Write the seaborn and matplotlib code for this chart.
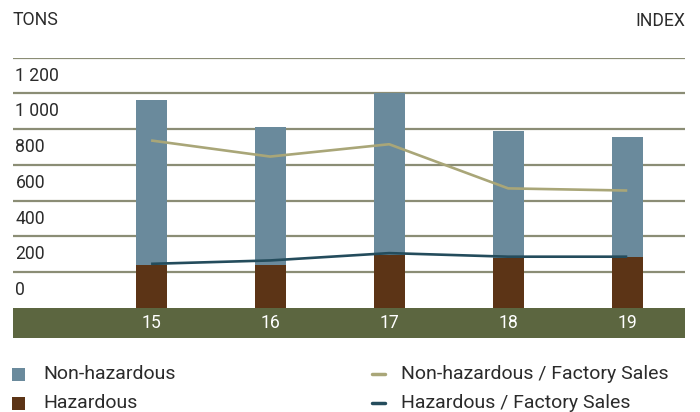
import matplotlib
matplotlib.use("Agg")
import matplotlib.pyplot as plt
from matplotlib.patches import Rectangle
from matplotlib.lines import Line2D
import numpy as np
import pandas as pd
import seaborn as sns

# Waste volumes (tons) and intensity indices per year
years = ["15", "16", "17", "18", "19"]
hazardous = [240, 240, 296, 281, 285]
non_hazardous = [922, 771, 904, 709, 670]
idx_non_hazardous = [937, 847, 916, 669, 657]
idx_hazardous = [247, 266, 307, 287, 287]
y_ticks = [0, 200, 400, 600, 800, 1000, 1200]
y_tick_labels = ["0", "200", "400", "600", "800", "1 000", "1 200"]

C_NON = "#6a8a9c"
C_HAZ = "#5c3416"
C_BAND = "#5c6640"
C_LINE_NON = "#a9a678"
C_LINE_HAZ = "#244c5c"
C_GRID = "#8b8d75"
C_TEXT = "#2b2b2b"

sns.set_theme(style="white")
plt.rcParams["font.family"] = ["Roboto", "DejaVu Sans"]

FS_AXIS = 12.7
FS_LEGEND = 14

df = pd.DataFrame({
    "year": years,
    "hazardous": hazardous,
    "total": np.array(hazardous) + np.array(non_hazardous),
})

fig = plt.figure(figsize=(7.0, 4.12), dpi=100)
W, H = 700, 412
ax_left, ax_right = 13, 685
ax_top, ax_bottom = 57.7, 337.5
ax = fig.add_axes([ax_left / W, (H - ax_bottom) / H,
                   (ax_right - ax_left) / W, (ax_bottom - ax_top) / H])

band = -165
ymax = 1400

# grid lines
for v in y_ticks[1:] + [1400]:
    ax.axhline(v, color=C_GRID, lw=1.6, zorder=0)

# stacked bars: total drawn first, hazardous on top of it
sns.barplot(data=df, x="year", y="total", color=C_NON, width=0.26,
            saturation=1, linewidth=0, ax=ax, zorder=2)
sns.barplot(data=df, x="year", y="hazardous", color=C_HAZ, width=0.26,
            saturation=1, linewidth=0, ax=ax, zorder=3)

# index lines
x = np.arange(len(years))
ax.plot(x, idx_non_hazardous, color=C_LINE_NON, lw=1.9, zorder=4,
        solid_capstyle="butt")
ax.plot(x, idx_hazardous, color=C_LINE_HAZ, lw=1.9, zorder=4,
        solid_capstyle="butt")

# category band along the bottom
ax.axhspan(band, 0, color=C_BAND, zorder=5, lw=0)
for i, lab in enumerate(years):
    ax.text(i, band / 2, lab, color="white", ha="center", va="center",
            fontsize=FS_AXIS, zorder=6)

# y labels sit just above their grid lines
for v, lab in zip(y_ticks, y_tick_labels):
    ax.text(-1.14, v + 100, lab, color=C_TEXT, ha="left", va="center",
            fontsize=FS_AXIS, zorder=6)

ax.set_xlim(-1.16, 4.485)
ax.set_ylim(band, ymax)
ax.set_xlabel("")
ax.set_ylabel("")
ax.set_xticks([])
ax.set_yticks([])
for s in ax.spines.values():
    s.set_visible(False)

fig.text(13 / W, 1 - 20 / H, "TONS", color=C_TEXT, fontsize=FS_AXIS,
         ha="left", va="center")
fig.text(685 / W, 1 - 21 / H, "INDEX", color=C_TEXT, fontsize=FS_AXIS,
         ha="right", va="center")

# legend
rows = [374, 403]
for y, lab, col in zip(rows, ["Non-hazardous", "Hazardous"], [C_NON, C_HAZ]):
    fig.add_artist(Rectangle((12 / W, 1 - (y + 6.5) / H), 13 / W, 13 / H,
                             transform=fig.transFigure, color=col, lw=0))
    fig.text(43 / W, 1 - y / H, lab, color=C_TEXT, fontsize=FS_LEGEND,
             ha="left", va="center")
for y, lab, col in zip(rows, ["Non-hazardous / Factory Sales",
                              "Hazardous / Factory Sales"],
                       [C_LINE_NON, C_LINE_HAZ]):
    fig.add_artist(Line2D([372 / W, 385 / W], [1 - y / H] * 2,
                          transform=fig.transFigure, color=col, lw=2.5))
    fig.text(401 / W, 1 - y / H, lab, color=C_TEXT, fontsize=FS_LEGEND,
             ha="left", va="center")

fig.savefig("out.png", dpi=100)
